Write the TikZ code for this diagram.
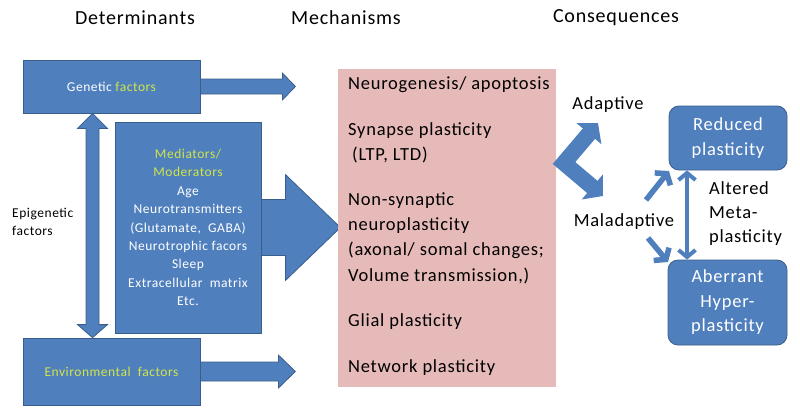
\documentclass[tikz,border=0pt]{standalone}
\usepackage{fontspec}
\setmainfont{Carlito}[LetterSpace=4]
\usetikzlibrary{arrows.meta,calc}
\definecolor{bfill}{RGB}{80,127,189}
\definecolor{bline}{RGB}{58,94,140}
\definecolor{pinkf}{RGB}{230,186,185}
\definecolor{ytext}{RGB}{208,230,72}
\begin{document}
\begin{tikzpicture}[x=1pt,y=-1pt,
  bluebox/.style={draw=bline, line width=0.8pt, fill=bfill, inner sep=0pt, text=white, align=center},
  rbox/.style={bluebox, rounded corners=10pt},
  blockarrow/.style={draw=bline, line width=0.8pt, fill=bfill, line join=miter},
  thinarrow/.style={draw=bfill, line width=4pt, line join=miter},
  head/.style={font=\fontsize{20}{24}\selectfont},
  small/.style={font=\fontsize{13.5}{18.4}\selectfont},
  big/.style={font=\fontsize{18.5}{25.3}\selectfont},
  mechtext/.style={big, anchor=west, align=left, inner sep=0pt}]
\useasboundingbox (0,0) rectangle (800,418);

% headings
\node[head] (hdet) at (135,18) {Determinants};
\node[head] (hmech) at (346,18) {Mechanisms};
\node[head] (hcons) at (616,18) {Consequences};

% left boxes
\node[bluebox, small, minimum width=177pt, minimum height=53pt] (gen) at (111.5,86.5) {Genetic \textcolor{ytext}{factors}};
\node[bluebox, small, minimum width=177pt, minimum height=67pt] (env) at (111.5,371.5) {\textcolor{ytext}{Environmental\ \ factors}};
\node[bluebox, small, minimum width=146pt, minimum height=211pt] (med) at (188,227.5) {\textcolor{ytext}{Mediators/}\\\textcolor{ytext}{Moderators}\\Age\\Neurotransmitters\\(Glutamate,\ \ GABA)\\Neurotrophic facors\\Sleep\\Extracellular\ \ matrix\\Etc.};

% block arrows from genetic / environmental
\draw[blockarrow] ($(gen.east)+(0,-7.5)$) -- ($(gen.east)+(82,-7.5)$) -- ($(gen.east)+(82,-13.5)$) -- ($(gen.east)+(95,0)$) -- ($(gen.east)+(82,13.5)$) -- ($(gen.east)+(82,7.5)$) -- ($(gen.east)+(0,7.5)$) -- cycle;
\draw[blockarrow] ($(env.east)+(0,-9.5)$) -- ($(env.east)+(78,-9.5)$) -- ($(env.east)+(78,-16.5)$) -- ($(env.east)+(95,0)$) -- ($(env.east)+(78,16.5)$) -- ($(env.east)+(78,9.5)$) -- ($(env.east)+(0,9.5)$) -- cycle;

% big arrow from mediators
\draw[blockarrow] ($(med.east)+(0,-28)$) -- ($(med.east)+(24,-28)$) -- ($(med.east)+(24,-53)$) -- ($(med.east)+(79,0)$) -- ($(med.east)+(24,53)$) -- ($(med.east)+(24,28)$) -- ($(med.east)+(0,28)$) -- cycle;

% vertical double block arrow (epigenetic)
\coordinate (vt) at (92.5,0 |- gen.south);
\coordinate (vb) at (92.5,0 |- env.north);
\draw[blockarrow] (vt) -- ($(vt)+(15,15)$) -- ($(vt)+(6.5,15)$) -- ($(vb)+(6.5,-13)$) -- ($(vb)+(15,-13)$) -- (vb) -- ($(vb)+(-15,-13)$) -- ($(vb)+(-6.5,-13)$) -- ($(vt)+(-6.5,15)$) -- ($(vt)+(-15,15)$) -- cycle;
\node[small, anchor=west, align=left, inner sep=0pt, font=\fontsize{13.5}{18}\selectfont] (epi) at (12,222) {Epigenetic\\factors};

% mechanisms box
\node[fill=pinkf, minimum width=218pt, minimum height=318pt, inner sep=0pt] (mech) at (447,228) {};
\node[mechtext] (m1) at (348,85) {Neurogenesis/ apoptosis};
\node[mechtext] (m2) at (348,143) {Synapse plasticity\\\hspace{4pt}(LTP, LTD)};
\node[mechtext] (m3) at (348,238) {Non-synaptic\\neuroplasticity\\(axonal/ somal changes;\\Volume transmission,)};
\node[mechtext] (m4) at (348,322) {Glial plasticity};
\node[mechtext] (m5) at (348,368) {Network plasticity};

% chevron double arrow
\coordinate (chtop) at (598,123);
\coordinate (chmid) at (564,163);
\coordinate (chbot) at (603,196);
\draw[draw=bfill, line width=16pt, line join=miter,
  {Triangle[length=14pt,width=32pt]}-{Triangle[length=14pt,width=32pt]}] (chtop) -- (chmid) -- (chbot);

\node[big] (adapt) at (608,105) {Adaptive};
\node[big] (maladapt) at (624,222) {Maladaptive};

% consequence boxes
\node[rbox, big, minimum width=118pt, minimum height=64pt, font=\fontsize{18.5}{25}\selectfont] (red) at (728,138) {Reduced\\plasticity};
\node[rbox, big, minimum width=119pt, minimum height=85pt, font=\fontsize{18.5}{24.5}\selectfont] (aber) at (727.5,302.5) {Aberrant\\Hyper-\\plasticity};

% thin arrows
\coordinate (vat) at (687,0 |- red.south);
\coordinate (vab) at (687,0 |- aber.north);
\draw[thinarrow, {Straight Barb[length=7pt,width=17pt]}-{Straight Barb[length=7pt,width=17pt]}] (vat) -- (vab);
\coordinate (d1s) at (646,200);
\coordinate (d1e) at (669,171);
\coordinate (d2s) at (648,238);
\coordinate (d2e) at (668,262);
\draw[thinarrow, line width=5.5pt, -{Straight Barb[length=7pt,width=20pt]}] (d1s) -- (d1e);
\draw[thinarrow, line width=5.5pt, -{Straight Barb[length=7pt,width=20pt]}] (d2s) -- (d2e);

\node[big, anchor=west, align=left, inner sep=0pt, font=\fontsize{18.5}{24}\selectfont] (meta) at (709,214) {Altered\\Meta-\\plasticity};
\end{tikzpicture}
\end{document}
